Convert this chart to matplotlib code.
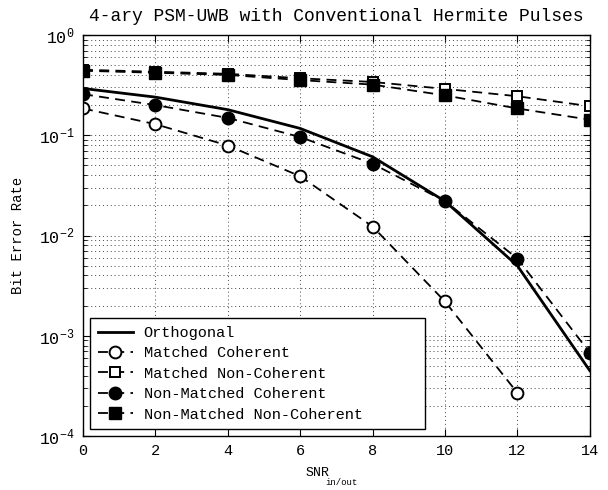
import matplotlib
matplotlib.use("Agg")
import matplotlib.pyplot as plt
from matplotlib.ticker import FixedLocator, FixedFormatter, NullFormatter
import numpy as np

plt.rcParams['font.family'] = ['Liberation Mono', 'DejaVu Sans']
plt.rcParams['mathtext.fontset'] = 'custom'
plt.rcParams['mathtext.rm'] = 'Liberation Mono'
plt.rcParams['mathtext.it'] = 'Liberation Mono'
plt.rcParams['mathtext.bf'] = 'Liberation Mono'

# ---- data ----
snr = [0, 2, 4, 6, 8, 10, 12, 14]
snr_mc = [0, 2, 4, 6, 8, 10, 12]
orthogonal = [0.293, 0.24, 0.18, 0.117, 0.061, 0.022, 0.005, 0.00045]
matched_coherent = [0.185, 0.129, 0.079, 0.039, 0.0123, 0.0022, 0.00027]
matched_noncoherent = [0.45, 0.43, 0.41, 0.37, 0.34, 0.29, 0.245, 0.195]
nonmatched_coherent = [0.257, 0.2, 0.149, 0.096, 0.052, 0.022, 0.0059, 0.00068]
nonmatched_noncoherent = [0.44, 0.42, 0.40, 0.355, 0.32, 0.25, 0.185, 0.143]

labels = ['Orthogonal', 'Matched Coherent', 'Matched Non-Coherent',
          'Non-Matched Coherent', 'Non-Matched Non-Coherent']
xticks = [0, 2, 4, 6, 8, 10, 12, 14]
yticks = [1e-4, 1e-3, 1e-2, 1e-1, 1e0]
ytick_labels = [r'$10^{-4}$', r'$10^{-3}$', r'$10^{-2}$', r'$10^{-1}$', r'$10^{0}$']

fig = plt.figure(figsize=(6.08, 4.90), dpi=100)
ax = fig.add_axes([0.1365, 0.110, 0.8335, 0.8186])

dash = (0, (5.5, 3.5))
ax.semilogy(snr, orthogonal, color='black', lw=2.0, ls='-', label=labels[0])
ax.semilogy(snr_mc, matched_coherent, color='black', lw=1.3, ls=dash, marker='o',
            ms=8.5, mfc='white', mec='black', mew=1.4, label=labels[1])
ax.semilogy(snr, matched_noncoherent, color='black', lw=1.3, ls=dash, marker='s',
            ms=7, mfc='white', mec='black', mew=1.4, label=labels[2])
ax.semilogy(snr, nonmatched_coherent, color='black', lw=1.3, ls=dash, marker='o',
            ms=9, mfc='black', mec='black', label=labels[3])
ax.semilogy(snr, nonmatched_noncoherent, color='black', lw=1.3, ls=dash, marker='s',
            ms=8, mfc='black', mec='black', label=labels[4])

ax.set_xlim(0, 14)
ax.set_ylim(1e-4, 1e0)
ax.xaxis.set_major_locator(FixedLocator(xticks))
ax.set_xticklabels([str(t) for t in xticks], fontsize=11)
ax.yaxis.set_major_locator(FixedLocator(yticks))
ax.yaxis.set_major_formatter(FixedFormatter(ytick_labels))
minor = [m * 10.0 ** e for e in range(-4, 0) for m in range(2, 10)]
ax.yaxis.set_minor_locator(FixedLocator(minor))
ax.yaxis.set_minor_formatter(NullFormatter())
for lab in ax.get_yticklabels():
    lab.set_fontsize(12)

ax.tick_params(which='both', direction='in', top=True, right=True, color='black')
ax.tick_params(which='major', length=5, width=0.8, pad=6)
ax.tick_params(which='minor', length=3, width=0.6)

ax.grid(True, which='major', axis='both', color='#444444', ls=(0, (1, 3)), lw=0.7)
ax.grid(True, which='minor', axis='y', color='#444444', ls=(0, (1, 3)), lw=0.7)

for sp in ax.spines.values():
    sp.set_linewidth(1.0)
    sp.set_color('black')

ax.set_title('4-ary PSM-UWB with Conventional Hermite Pulses', fontsize=13, pad=10)
ax.set_ylabel('Bit Error Rate', fontsize=10, labelpad=10)
fig.text(0.523, 0.034, 'SNR', fontsize=9.5, ha='center', va='center')
fig.text(0.562, 0.016, 'in/out', fontsize=6.5, ha='center', va='center')

leg = ax.legend(loc='lower left', bbox_to_anchor=(0.014, 0.017, 0.661, 0.28),
                mode='expand', borderaxespad=0,
                fontsize=11, handlelength=2.3, handletextpad=0.7, labelspacing=0.42,
                borderpad=0.5, frameon=True, fancybox=False, framealpha=1)
leg.get_frame().set_edgecolor('black')
leg.get_frame().set_linewidth(1.0)

fig.savefig('out.png', dpi=100)
